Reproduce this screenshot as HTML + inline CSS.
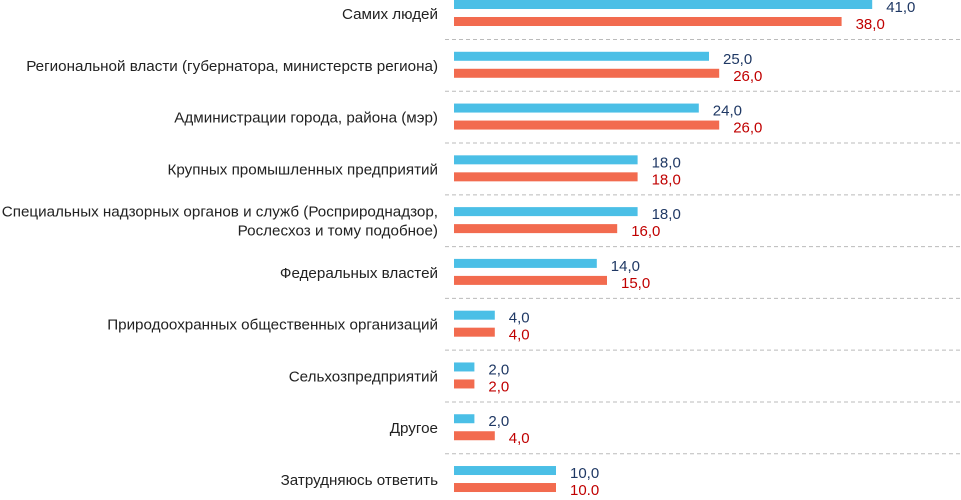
<!DOCTYPE html>
<html><head><meta charset="utf-8"><style>
body{margin:0;background:#fff;width:961px;height:495px;overflow:hidden;font-family:"Liberation Sans",sans-serif}
</style></head><body>
<svg id="chart" width="961" height="495" xmlns="http://www.w3.org/2000/svg"></svg>
<script>
const categories=[["Самих людей"],["Региональной власти (губернатора, министерств региона)"],["Администрации города, района (мэр)"],["Крупных промышленных предприятий"],["Специальных надзорных органов и служб (Росприроднадзор,","Рослесхоз и тому подобное)"],["Федеральных властей"],["Природоохранных общественных организаций"],["Сельхозпредприятий"],["Другое"],["Затрудняюсь ответить"]];
const seriesA=[41,25,24,18,18,14,4,2,2,10];
const seriesB=[38,26,26,18,16,15,4,2,4,10];
const svg=document.getElementById('chart');
const NS='http://www.w3.org/2000/svg';
const x0=454, unit=10.2, pitch=51.78;
const xs=v=>v*unit;
function mk(t,a){const e=document.createElementNS(NS,t);for(const k in a)e.setAttribute(k,a[k]);svg.appendChild(e);return e;}
categories.forEach((c,i)=>{
  const t=i*pitch;
  const b=mk('rect',{x:x0,y:t,width:xs(seriesA[i]),height:9,fill:'#4bbfe6'});
  
  
  const r=mk('rect',{x:x0,y:t+17,width:xs(seriesB[i]),height:9,fill:'#f26b4f'});
  
  
  const la=mk('text',{x:x0+xs(seriesA[i])+14,y:t+12,fill:'#1f3864','font-size':15});
  la.textContent=seriesA[i].toFixed(1).replace('.',',');
  
  
  const lb=mk('text',{x:x0+xs(seriesB[i])+14,y:t+29,fill:'#c00000','font-size':15});
  lb.textContent=seriesB[i].toFixed(1).replace('.',',');
  
  
  const n=c.length;
  c.forEach((line,j)=>{
    const tx=mk('text',{x:438,y:t+19+(j-(n-1)/2)*19,'text-anchor':'end',fill:'#222','font-size':15.2});
    tx.textContent=line;
    
    
  });
  if(i<categories.length-1){
    const d=mk('line',{x1:445,x2:961,y1:t+39.5,y2:t+39.5,stroke:'#bbb','stroke-width':1,'stroke-dasharray':'4,3'});
    
    
  }
});
</script>
</body></html>
